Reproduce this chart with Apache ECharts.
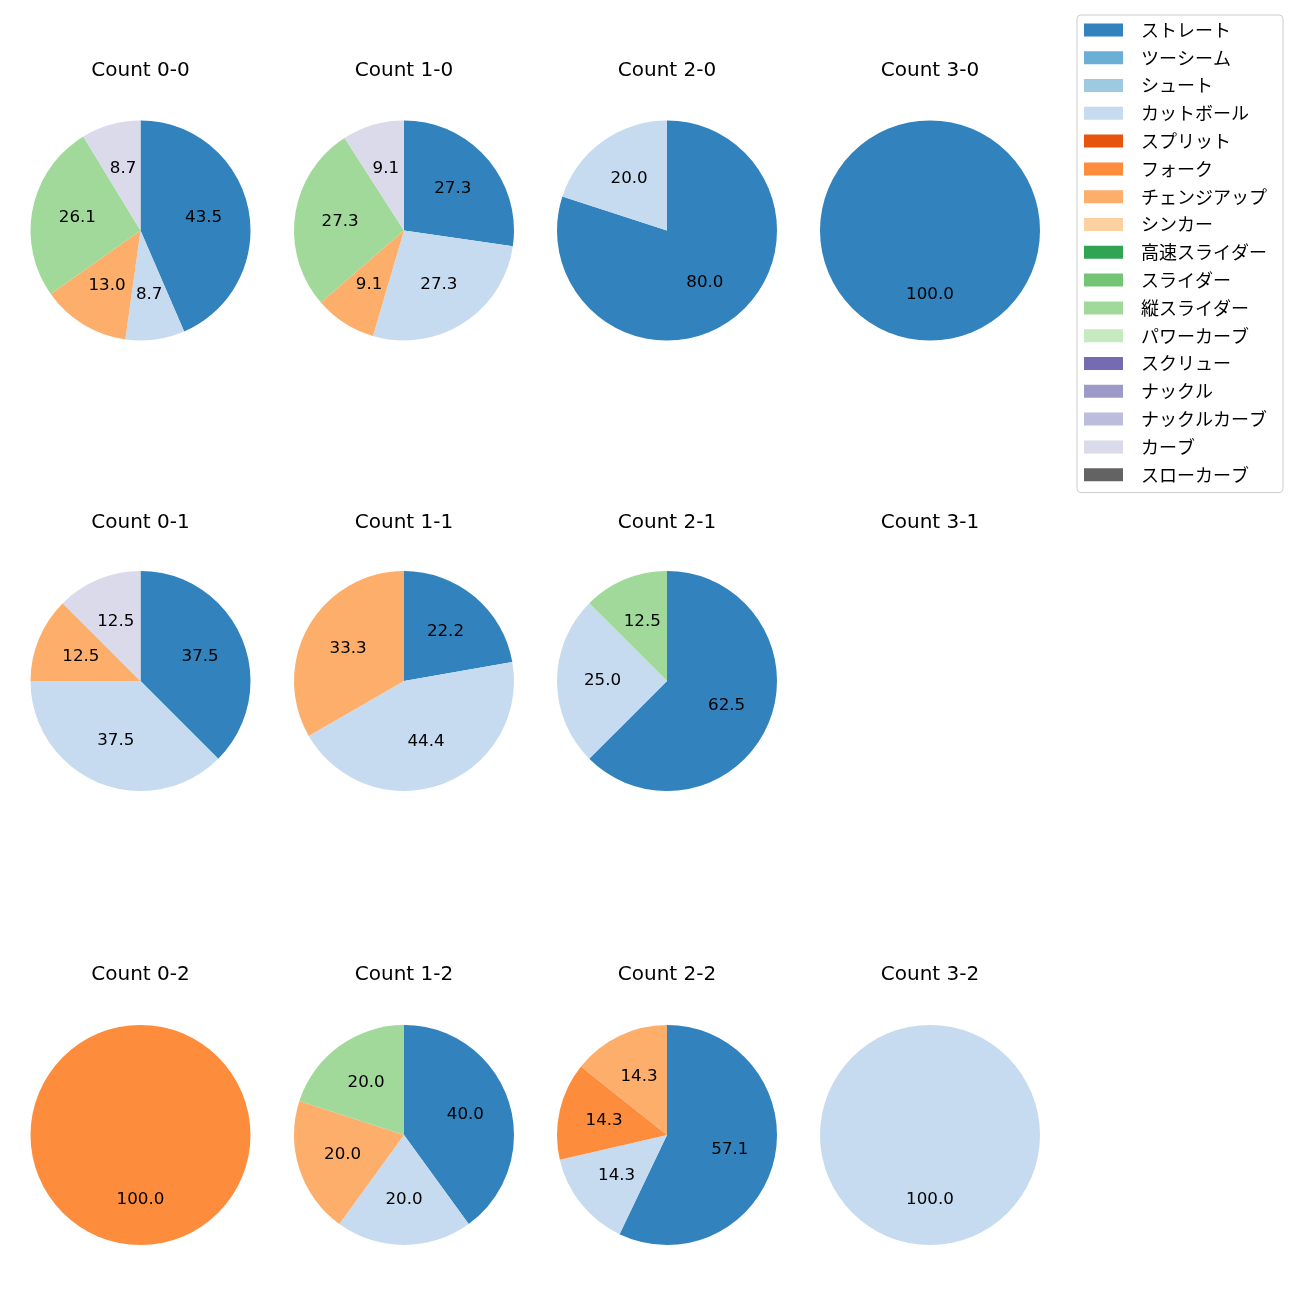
<!DOCTYPE html>
<html><head><meta charset="utf-8">
<script src="https://cdn.jsdelivr.net/npm/echarts@6/dist/echarts.min.js"></script>
<style>html,body{margin:0;padding:0;background:#fff}#c{width:1300px;height:1300px}</style>
</head><body><div id="c"></div>
<script>
const pitchTypes = ['ストレート','ツーシーム','シュート','カットボール','スプリット','フォーク','チェンジアップ','シンカー','高速スライダー','スライダー','縦スライダー','パワーカーブ','スクリュー','ナックル','ナックルカーブ','カーブ','スローカーブ'];
const pitchColors = ['#3182bd','#6baed6','#9ecae1','#c6dbef','#e6550d','#fd8d3c','#fdae6b','#fdd0a2','#31a354','#74c476','#a1d99b','#c7e9c0','#756bb1','#9e9ac8','#bcbddc','#dadaeb','#636363'];
const panelTitles = ['Count 0-0','Count 1-0','Count 2-0','Count 3-0','Count 0-1','Count 1-1','Count 2-1','Count 3-1','Count 0-2','Count 1-2','Count 2-2','Count 3-2'];
// values per pitch type, same order as pitchTypes (percent)
const count00 = [43.5,0,0,8.7,0,0,13.0,0,0,0,26.1,0,0,0,0,8.7,0];
const count10 = [27.3,0,0,27.3,0,0,9.1,0,0,0,27.3,0,0,0,0,9.1,0];
const count20 = [80.0,0,0,20.0,0,0,0,0,0,0,0,0,0,0,0,0,0];
const count30 = [100.0,0,0,0,0,0,0,0,0,0,0,0,0,0,0,0,0];
const count01 = [37.5,0,0,37.5,0,0,12.5,0,0,0,0,0,0,0,0,12.5,0];
const count11 = [22.2,0,0,44.4,0,0,33.3,0,0,0,0,0,0,0,0,0,0];
const count21 = [62.5,0,0,25.0,0,0,0,0,0,0,12.5,0,0,0,0,0,0];
const count31 = [];
const count02 = [0,0,0,0,0,100.0,0,0,0,0,0,0,0,0,0,0,0];
const count12 = [40.0,0,0,20.0,0,0,20.0,0,0,0,20.0,0,0,0,0,0,0];
const count22 = [57.1,0,0,14.3,0,14.3,14.3,0,0,0,0,0,0,0,0,0,0];
const count32 = [0,0,0,100.0,0,0,0,0,0,0,0,0,0,0,0,0,0];
const panels = [count00,count10,count20,count30,count01,count11,count21,count31,count02,count12,count22,count32];

const colX = [140.5, 404, 667, 930];
const rowY = [230.5, 681, 1135];
const titleY = [71, 523, 975];
const R = 110;
const LATIN = '"DejaVu Sans", "Noto Sans CJK JP", sans-serif';
const JP = '"Noto Sans CJK JP", "DejaVu Sans", sans-serif';

const series = [];
// dummy series so the legend lists every pitch type
series.push({
  type:'pie', center:[-500,-500], radius:[0,1], silent:true, label:{show:false}, labelLine:{show:false},
  data: pitchTypes.map((n,i)=>({name:n, value:1, itemStyle:{color:pitchColors[i]}}))
});
const graphics = [];
panels.forEach((vals, p) => {
  const cx = colX[p%4], cy = rowY[Math.floor(p/4)];
  graphics.push({type:'text', x:cx, y:titleY[Math.floor(p/4)], style:{text:panelTitles[p], align:'center', verticalAlign:'middle', font:'20px '+LATIN, fill:'#000'}});
  const data = [];
  vals.forEach((v,i)=>{ if(v>0) data.push({name:pitchTypes[i], value:v, itemStyle:{color:pitchColors[i]}}); });
  if (!data.length) return;
  series.push({
    type:'pie', center:[cx,cy], radius:[0,R], startAngle:90, clockwise:true, silent:true,
    animation:false, label:{show:false}, labelLine:{show:false}, itemStyle:{borderWidth:0},
    data: data
  });
  series.push({
    type:'pie', center:[cx,cy], radius:[13,R], startAngle:90, clockwise:true, silent:true,
    animation:false, labelLine:{show:false}, itemStyle:{color:'rgba(0,0,0,0)', borderWidth:0},
    label:{show:true, position:'inside', color:'#000', fontSize:16.7, fontFamily:LATIN,
      formatter: pr => pr.value.toFixed(1)},
    data: data.map(d=>({name:d.name, value:d.value}))
  });
});

const chart = echarts.init(document.getElementById('c'), null, {renderer:'canvas'});
chart.setOption({
  animation:false,
  legend:{
    orient:'vertical', left:1077, top:15, data:pitchTypes, icon:'rect',
    itemWidth:39, itemHeight:13, itemGap:0,
    padding:[1,16,4,7], borderColor:'#cccccc', borderWidth:1, borderRadius:4,
    selectedMode:false,
    textStyle:{fontSize:18, fontFamily:JP, color:'#000', lineHeight:27.8, padding:[0,0,0,13]}
  },
  graphic: graphics,
  series: series
});
</script></body></html>
